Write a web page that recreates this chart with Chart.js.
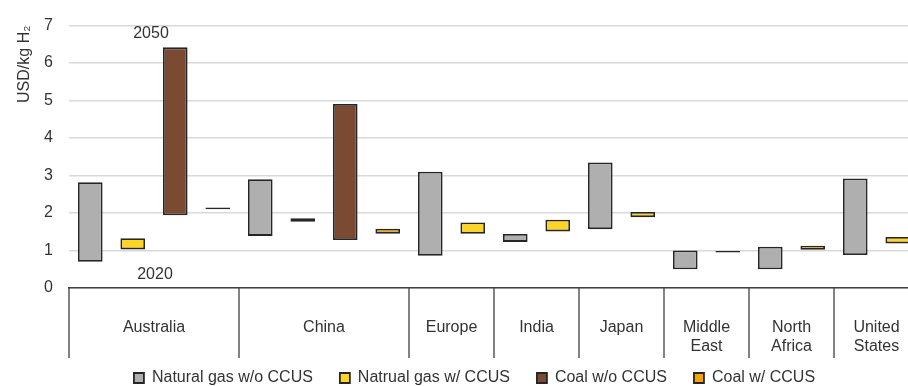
<!DOCTYPE html>
<html>
<head>
<meta charset="utf-8">
<script src="https://cdn.jsdelivr.net/npm/chart.js@4.4.1/dist/chart.umd.min.js"></script>
<style>
    html, body { margin: 0; padding: 0; overflow: hidden; background: #fff; }
    #wrap { width: 920px; height: 386px; position: relative; }
</style>
</head>
<body>
<div id="wrap"><canvas id="costChart"></canvas></div>
<script>
// Hydrogen production cost ranges, 2020 (low end) to 2050 (high end)
const regions = ['Australia', 'China', 'Europe', 'India', 'Japan', ['Middle', 'East'], ['North', 'Africa'], ['United', 'States']];
const regionSlots = [4, 4, 2, 2, 2, 2, 2, 2];

const seriesNames = ['Natural gas w/o CCUS', 'Natrual gas w/ CCUS', 'Coal w/o CCUS', 'Coal w/ CCUS'];

const gasNoCcus = [[0.70, 2.82], [1.39, 2.90], [0.86, 3.10], [1.23, 1.44], [1.57, 3.35], [0.50, 1.00], [0.50, 1.10], [0.88, 2.92]];
const gasCcus = [[1.03, 1.33], [1.77, 1.86], [1.45, 1.75], [1.51, 1.82], [1.89, 2.03], [0.95, 0.99], [1.02, 1.13], [1.19, 1.36]];
// only Australia and China have coal bars
const coalNoCcus = [[1.94, 6.42], [1.28, 4.91]];
const coalCcus = [[2.10, 2.15], [1.45, 1.58]];

const yTicks = [0, 1, 2, 3, 4, 5, 6, 7];

// Build one category slot per bar
const slotLabels = [];
const gasNoData = [], gasData = [], coalNoData = [], coalData = [];
const groupStart = [];
let coalIdx = 0;

function addSlot(label, series, value) {
    slotLabels.push(label);
    [gasNoData, gasData, coalNoData, coalData].forEach((arr, k) => arr.push(k === series ? value : null));
}

regions.forEach((r, i) => {
    const name = Array.isArray(r) ? r.join(' ') : r;
    groupStart.push(slotLabels.length);
    addSlot(name, 0, gasNoCcus[i]);
    addSlot(name, 1, gasCcus[i]);
    if (regionSlots[i] === 4) {
        addSlot(name, 2, coalNoCcus[coalIdx]);
        addSlot(name, 3, coalCcus[coalIdx]);
        coalIdx++;
    }
});

const FONT = '"Liberation Sans", Arial, sans-serif';
const TEXT = '#333333';
const LINE = '#404040';

Chart.defaults.font.family = FONT;
Chart.defaults.color = TEXT;

// Draws region separators, region names and the 2020/2050 notes
const regionAxisPlugin = {
    id: 'regionAxis',
    afterLayout(chart) {
        // nudge the legend to where it sits in the original
        const lg = chart.legend;
        if (lg) {
            lg.top += 10; lg.bottom += 10;
            lg.left += 15; lg.right += 15;
        }
    },
    afterDraw(chart) {
        const ctx = chart.ctx;
        const x = chart.scales.x;
        const y = chart.scales.y;
        const area = chart.chartArea;
        const half = (x.getPixelForValue(1) - x.getPixelForValue(0)) / 2;

        ctx.save();
        ctx.strokeStyle = LINE;
        ctx.lineWidth = 1.3;
        const bounds = groupStart.map(s => x.getPixelForValue(s) - half);
        bounds.push(area.right);
        bounds.forEach(bx => {
            ctx.beginPath();
            ctx.moveTo(bx, area.bottom);
            ctx.lineTo(bx, area.bottom + 70);
            ctx.stroke();
        });

        ctx.fillStyle = TEXT;
        ctx.font = '16px ' + FONT;
        ctx.textAlign = 'center';
        ctx.textBaseline = 'middle';
        regions.forEach((r, i) => {
            const first = groupStart[i];
            const last = first + regionSlots[i] - 1;
            const cx = (x.getPixelForValue(first) + x.getPixelForValue(last)) / 2;
            const lines = Array.isArray(r) ? r : [r];
            lines.forEach((t, j) => ctx.fillText(t, cx, area.bottom + 40 + j * 19));
        });

        // year notes around the Australian coal bar
        const nx = (x.getPixelForValue(1) + x.getPixelForValue(2)) / 2;
        ctx.fillText('2050', nx - 3, y.getPixelForValue(6.8));
        ctx.fillText('2020', nx + 1, y.getPixelForValue(0.35));
        ctx.restore();
    }
};

const barStyle = {
    borderColor: '#262626',
    borderWidth: 1.8,
    borderSkipped: false,
    grouped: false,
    barPercentage: 0.58,
    categoryPercentage: 1
};

const config = {
    type: 'bar',
    data: {
        labels: slotLabels,
        datasets: [
            { label: seriesNames[0], data: gasNoData, backgroundColor: '#afafaf', ...barStyle },
            { label: seriesNames[1], data: gasData, backgroundColor: '#ffd422', ...barStyle },
            { label: seriesNames[2], data: coalNoData, backgroundColor: '#7b4a32', ...barStyle },
            { label: seriesNames[3], data: coalData, backgroundColor: '#f5a300', ...barStyle }
        ]
    },
    options: {
        responsive: true,
        maintainAspectRatio: false,
        animation: false,
        layout: { padding: { top: 21, right: 1, bottom: 0, left: 0 } },
        plugins: {
            tooltip: { enabled: false },
            legend: {
                position: 'bottom',
                labels: {
                    boxWidth: 10,
                    boxHeight: 10,
                    padding: 27,
                    color: TEXT,
                    font: { size: 16 }
                }
            }
        },
        scales: {
            x: {
                type: 'category',
                offset: true,
                ticks: { display: false },
                grid: { display: false },
                border: { display: true, color: LINE, width: 1.5 },
                afterFit: (scale) => { scale.height = 45; }
            },
            y: {
                min: 0,
                max: 7,
                afterBuildTicks: (scale) => { scale.ticks = yTicks.map(v => ({ value: v })); },
                ticks: { padding: 16, color: TEXT, font: { size: 16 } },
                grid: { color: '#d9d9d9', lineWidth: 1.5, drawTicks: false },
                border: { display: false },
                title: {
                    display: true,
                    text: 'USD/kg H₂',
                    align: 'end',
                    color: TEXT,
                    font: { size: 16 },
                    padding: { top: 15, bottom: 0 }
                },
                afterFit: (scale) => { scale.width = 69; }
            }
        }
    },
    plugins: [regionAxisPlugin]
};

new Chart(document.getElementById('costChart'), config);
</script>
</body>
</html>
